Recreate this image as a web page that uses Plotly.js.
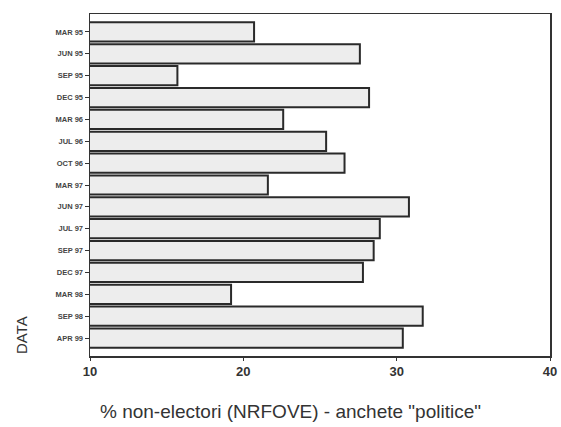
<!DOCTYPE html>
<html>
<head>
<meta charset="utf-8">
<script src="https://cdn.plot.ly/plotly-3.0.1.min.js"></script>
<style>html,body{margin:0;padding:0;background:#fff;}#chart{width:561px;height:427px;}</style>
</head>
<body>
<div id="chart"></div>
<script>
var categories = ["MAR 95","JUN 95","SEP 95","DEC 95","MAR 96","JUL 96","OCT 96","MAR 97","JUN 97","JUL 97","SEP 97","DEC 97","MAR 98","SEP 98","APR 99"];
var values = [20.7, 27.6, 15.7, 28.2, 22.6, 25.4, 26.6, 21.6, 30.8, 28.9, 28.5, 27.8, 19.2, 31.7, 30.4];
var xTicks = [10, 20, 30, 40];

var trace = {
  type: "bar",
  orientation: "h",
  x: values,
  y: categories,
  width: 0.88,
  marker: {color: "#ededed", line: {color: "#2a2a2a", width: 2}},
  hoverinfo: "none"
};

var layout = {
  width: 561, height: 427,
  margin: {l: 90, r: 11, t: 14, b: 71},
  paper_bgcolor: "#fff", plot_bgcolor: "#fff",
  showlegend: false,
  font: {family: "Liberation Sans, Arial, sans-serif", color: "#333"},
  xaxis: {
    range: [10, 40], tickvals: xTicks, ticktext: xTicks.map(String),
    showgrid: false, zeroline: false,
    showline: true, linecolor: "#333", linewidth: 1.5, mirror: true,
    ticks: "outside", ticklen: 3, tickcolor: "#333",
    tickfont: {size: 13, weight: "bold", color: "#333"}
  },
  yaxis: {
    type: "category", categoryorder: "array", categoryarray: categories,
    range: [14.82, -0.82],
    showgrid: false, zeroline: false,
    showline: true, linecolor: "#333", linewidth: 1.5, mirror: true,
    ticks: "outside", ticklen: 4, tickcolor: "#333",
    tickfont: {size: 7.5, weight: "bold", color: "#444"}
  },
  annotations: [{
    text: "DATA", xref: "paper", yref: "paper", x: -0.15, y: 0.0,
    xanchor: "center", yanchor: "bottom", textangle: -90, showarrow: false,
    font: {size: 15, color: "#333"}
  }, {
    text: "% non-electori (NRFOVE) - anchete \"politice\"", xref: "paper", yref: "paper",
    x: 0.435, y: -0.161, xanchor: "center", yanchor: "middle", showarrow: false,
    font: {size: 19, color: "#333"}
  }]
};

Plotly.newPlot("chart", [trace], layout, {staticPlot: true, displayModeBar: false});
</script>
</body>
</html>
